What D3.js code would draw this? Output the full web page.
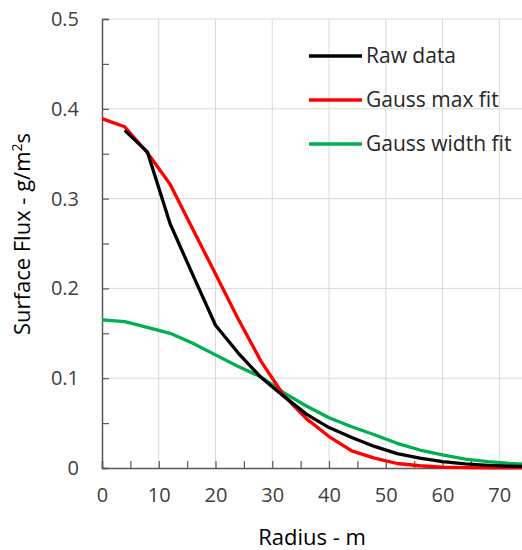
<!DOCTYPE html>
<html>
<head>
<meta charset="utf-8">
<script src="https://cdn.jsdelivr.net/npm/d3@7"></script>
<style>
    body { margin: 0; background: #fff; }
    svg { display: block; font-family: "Open Sans", sans-serif; }
</style>
</head>
<body>
<div id="chart"></div>
<script>
var radius = [0, 4, 8, 12, 16, 20, 24, 28, 32, 36, 40, 44, 48, 52, 56, 60, 64, 68, 72, 76];
var rawData = [null, 0.376, 0.352, 0.272, 0.215, 0.159, 0.128, 0.101, 0.080, 0.060, 0.045, 0.034, 0.024, 0.016, 0.011, 0.007, 0.0045, 0.003, 0.002, 0.0015];
var gaussMaxFit = [0.389, 0.380, 0.351, 0.316, 0.266, 0.216, 0.166, 0.119, 0.081, 0.055, 0.035, 0.019, 0.011, 0.005, 0.0025, 0.001, 0.0005, 0.0002, 0.0001, 0];
var gaussWidthFit = [0.165, 0.163, 0.1565, 0.150, 0.139, 0.126, 0.113, 0.1015, 0.084, 0.069, 0.056, 0.046, 0.037, 0.0275, 0.020, 0.0145, 0.010, 0.007, 0.005, 0.0038];

var xTicks = [0, 10, 20, 30, 40, 50, 60, 70];
var yTicks = [0, 0.1, 0.2, 0.3, 0.4, 0.5];

var seriesList = [
    {name: 'Raw data', values: rawData, color: '#000000'},
    {name: 'Gauss max fit', values: gaussMaxFit, color: '#ff0000'},
    {name: 'Gauss width fit', values: gaussWidthFit, color: '#00b050'}
];

function drawChart() {
    var width = 522, height = 550;
    var margin = {top: 19, right: 0, bottom: 82, left: 102};

    var svg = d3.select('#chart').append('svg')
        .attr('width', width)
        .attr('height', height);

    var x = d3.scaleLinear().domain([0, 74]).range([margin.left, width - margin.right]);
    var y = d3.scaleLinear().domain([0, 0.5]).range([height - margin.bottom, margin.top]);

    svg.append('clipPath').attr('id', 'plot-clip')
        .append('rect')
        .attr('x', x(0)).attr('y', y(0.5) - 4)
        .attr('width', x(74) - x(0)).attr('height', y(0) - y(0.5) + 8);

    // grid
    svg.append('g').selectAll('line.vgrid')
        .data(xTicks.slice(1))
        .join('line')
        .attr('x1', function (d) { return x(d); })
        .attr('x2', function (d) { return x(d); })
        .attr('y1', y(0)).attr('y2', y(0.5))
        .attr('stroke', '#d9d9d9').attr('stroke-width', 1);

    svg.append('g').selectAll('line.hgrid')
        .data(yTicks.slice(1))
        .join('line')
        .attr('x1', x(0)).attr('x2', x(74))
        .attr('y1', function (d) { return y(d); })
        .attr('y2', function (d) { return y(d); })
        .attr('stroke', '#d9d9d9').attr('stroke-width', 1);

    var yAxis = d3.axisLeft(y)
        .tickValues(d3.range(0, 0.501, 0.05))
        .tickSize(-7)
        .tickPadding(23)
        .tickFormat(function (d) {
            var v = Math.round(d * 100);
            return v % 10 === 0 ? d3.format('')(v / 100) : '';
        });

    var xAxis = d3.axisBottom(x)
        .tickValues(d3.range(0, 74, 5))
        .tickSize(-7)
        .tickPadding(20)
        .tickFormat(function (d) { return d % 10 === 0 ? d : ''; });

    var gx = svg.append('g')
        .attr('transform', 'translate(0,' + y(0) + ')')
        .call(xAxis);
    var gy = svg.append('g')
        .attr('transform', 'translate(' + x(0) + ',0)')
        .call(yAxis);

    [gx, gy].forEach(function (g) {
        g.select('.domain').attr('stroke', '#595959').attr('stroke-width', 1.5);
        g.selectAll('.tick line').attr('stroke', '#595959').attr('stroke-width', 1.2);
        g.selectAll('.tick text')
            .attr('font-family', '"Open Sans", sans-serif')
            .attr('font-size', 20)
            .attr('fill', '#404040');
    });

    var line = d3.line()
        .defined(function (d) { return d[1] !== null; })
        .x(function (d) { return x(d[0]); })
        .y(function (d) { return y(d[1]); });

    var plot = svg.append('g').attr('clip-path', 'url(#plot-clip)');
    seriesList.slice().reverse().forEach(function (s) {
        plot.append('path')
            .datum(d3.zip(radius, s.values))
            .attr('d', line)
            .attr('fill', 'none')
            .attr('stroke', s.color)
            .attr('stroke-width', 3.3)
            .attr('stroke-linejoin', 'round');
    });

    // legend
    var legend = svg.append('g');
    seriesList.forEach(function (s, i) {
        var ly = 56 + i * 44;
        legend.append('line')
            .attr('x1', 309).attr('x2', 362)
            .attr('y1', ly).attr('y2', ly)
            .attr('stroke', s.color).attr('stroke-width', 3.3);
        legend.append('text')
            .attr('x', 366).attr('y', ly + 7)
            .attr('font-size', 21)
            .attr('fill', '#262626')
            .text(s.name);
    });

    svg.append('text')
        .attr('x', (x(0) + x(74)) / 2)
        .attr('y', 545)
        .attr('text-anchor', 'middle')
        .attr('font-size', 22)
        .attr('fill', '#000')
        .text('Radius - m');

    var yTitle = svg.append('text')
        .attr('transform', 'translate(30,' + 234 + ') rotate(-90)')
        .attr('text-anchor', 'middle')
        .attr('font-size', 22)
        .attr('fill', '#000');
    yTitle.append('tspan').text('Surface Flux - g/m');
    yTitle.append('tspan').attr('font-size', 14).attr('dy', -8).text('2');
    yTitle.append('tspan').attr('dy', 8).text('s');
}

drawChart();
</script>
</body>
</html>
